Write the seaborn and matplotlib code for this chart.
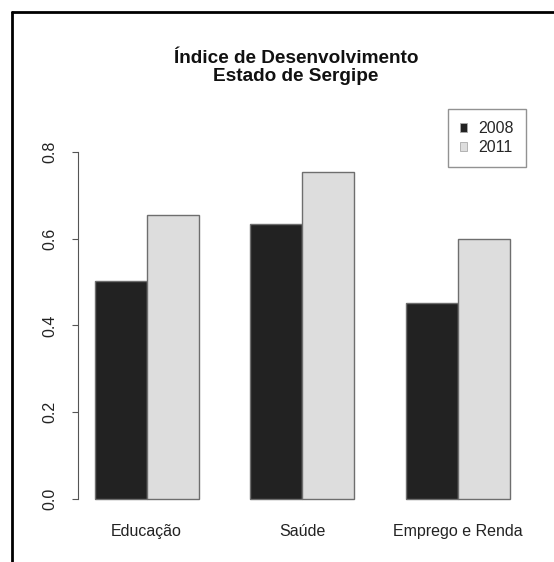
import matplotlib
matplotlib.use("Agg")
import matplotlib.pyplot as plt
import matplotlib.patches as mpatches
from matplotlib.lines import Line2D
import seaborn as sns
import pandas as pd

categories = ["Educação", "Saúde", "Emprego e Renda"]
years = ["2008", "2011"]
values_2008 = [0.502, 0.634, 0.452]
values_2011 = [0.655, 0.754, 0.600]
yticks = [0.0, 0.2, 0.4, 0.6, 0.8]
title = "Índice de Desenvolvimento\nEstado de Sergipe"

df = pd.DataFrame({
    "categoria": categories * 2,
    "ano": [years[0]] * 3 + [years[1]] * 3,
    "valor": values_2008 + values_2011,
})

sns.set_style("white")
plt.rcParams["font.family"] = ["Liberation Sans", "DejaVu Sans"]

fig = plt.figure(figsize=(5.54, 5.62), dpi=100)
ax = fig.add_axes([0.1408, 0.0854, 0.8087, 0.7206])

palette = {"2008": "#222222", "2011": "#dddddd"}
sns.barplot(data=df, x="categoria", y="valor", hue="ano", order=categories,
            hue_order=years, palette=palette, width=0.668, saturation=1,
            edgecolor="#6e6e6e", linewidth=1.0, ax=ax, legend=False)

ax.set_xlim(-0.441, 2.438)
ax.set_ylim(-0.0346, 0.899)
ax.set_xlabel("")
ax.set_ylabel("")
ax.set_yticks(yticks)
ax.set_yticklabels([f"{v:.1f}" for v in yticks], rotation=90, va="center",
                   fontsize=11.5, color="#222222")
ax.tick_params(axis="y", length=4.6, width=0.8, color="#555555", pad=10, left=True)
ax.tick_params(axis="x", length=0, pad=7, labelsize=11.5, labelcolor="#222222")
for s in ["top", "right", "bottom"]:
    ax.spines[s].set_visible(False)
ax.spines["left"].set_bounds(0, 0.8)
ax.spines["left"].set_color("#555555")
ax.spines["left"].set_linewidth(0.8)

handles = [mpatches.Patch(facecolor=palette[y], edgecolor="#aaaaaa", linewidth=0.6, label=y)
           for y in years]
leg = ax.legend(handles=handles, loc="upper right", borderaxespad=0, fancybox=False,
                frameon=True, fontsize=11.5, handlelength=0.45, handleheight=0.45,
                handletextpad=0.7, borderpad=0.75, labelspacing=0.25)
leg.get_frame().set_edgecolor("#777777")
leg.get_frame().set_linewidth(1.0)

fig.text(296 / 554, 1 - 67.5 / 562, title, ha="center", va="center", fontsize=13.7,
         fontweight="bold", linespacing=1.05, color="#111111")

# outer frame (top and left edges)
fig.add_artist(Line2D([11.5 / 554, 1], [1 - 11.5 / 562, 1 - 11.5 / 562],
                      transform=fig.transFigure, color="black", linewidth=2.0))
fig.add_artist(Line2D([11.5 / 554, 11.5 / 554], [0, 1 - 11.5 / 562],
                      transform=fig.transFigure, color="black", linewidth=2.0))

fig.savefig("out.png", dpi=100)
